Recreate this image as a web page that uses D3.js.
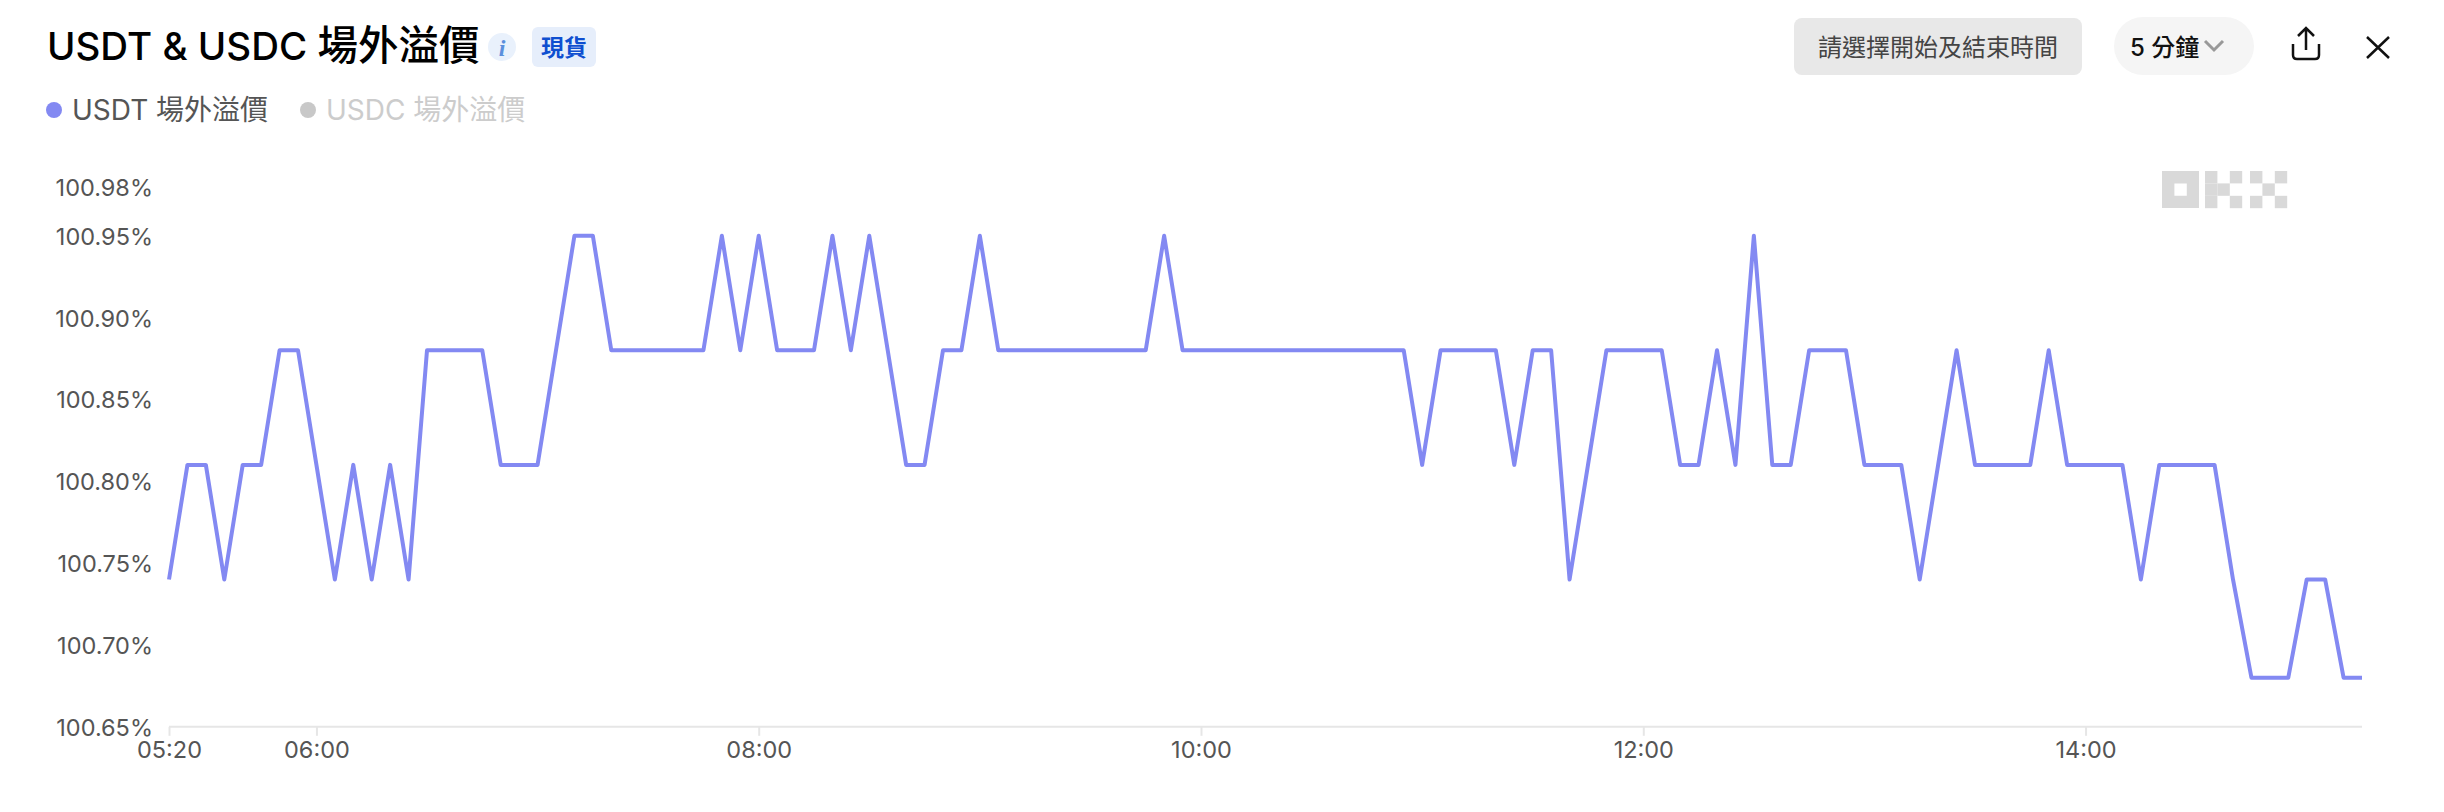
<!DOCTYPE html>
<html><head><meta charset="utf-8">
<script src="https://cdn.jsdelivr.net/npm/d3@7/dist/d3.min.js"></script>
<style>
html,body{margin:0;padding:0;background:#fff;}
svg{display:block;}
text{font-family:Inter,"Noto Sans CJK TC",sans-serif;}
</style></head><body>
<svg id="c" width="2444" height="812"></svg>
<script>
const titleLatin = "USDT & USDC ";
const titleCjk = "場外溢價";
const badge = "現貨";
const seriesNames = ["USDT 場外溢價","USDC 場外溢價"];
const buttonLabel = "請選擇開始及結束時間";
const intervalLabel = "5 分鐘";
const startTime = "05:20";
const stepMinutes = 5;
const usdt = [
100.74,100.81,100.81,100.74,100.81,100.81,100.88,100.88,100.81,100.74,
100.81,100.74,100.81,100.74,100.88,100.88,100.88,100.88,100.81,100.81,
100.81,100.88,100.95,100.95,100.88,100.88,100.88,100.88,100.88,100.88,
100.95,100.88,100.95,100.88,100.88,100.88,100.95,100.88,100.95,100.88,
100.81,100.81,100.88,100.88,100.95,100.88,100.88,100.88,100.88,100.88,
100.88,100.88,100.88,100.88,100.95,100.88,100.88,100.88,100.88,100.88,
100.88,100.88,100.88,100.88,100.88,100.88,100.88,100.88,100.81,100.88,
100.88,100.88,100.88,100.81,100.88,100.88,100.74,100.81,100.88,100.88,
100.88,100.88,100.81,100.81,100.88,100.81,100.95,100.81,100.81,100.88,
100.88,100.88,100.81,100.81,100.81,100.74,100.81,100.88,100.81,100.81,
100.81,100.81,100.88,100.81,100.81,100.81,100.81,100.74,100.81,100.81,
100.81,100.81,100.74,100.68,100.68,100.68,100.74,100.74,100.68,100.68];
const yTicks = [100.65,100.70,100.75,100.80,100.85,100.90,100.95,100.98];
const xTickLabels = ["05:20","06:00","08:00","10:00","12:00","14:00"];

const svg = d3.select("#c");
const toDate = s => { const [h,m]=s.split(":").map(Number); return new Date(Date.UTC(2024,0,1,h,m)); };
const t0 = toDate(startTime);
const times = usdt.map((_,i)=> new Date(+t0 + i*stepMinutes*60000));
const x = d3.scaleUtc().domain([times[0],times[times.length-1]]).range([169,2362]);
const y = d3.scaleLinear().domain([100.65,100.98]).range([726.8,186.6]);

// axes
const xAxis = d3.axisBottom(x).tickValues(xTickLabels.map(toDate)).tickFormat(d3.utcFormat("%H:%M")).tickSize(9).tickPadding(6);
const gx = svg.append("g").attr("transform","translate(0,726.8)").call(xAxis);
gx.select(".domain").attr("stroke","#e6e6e6").attr("stroke-width",2).attr("d","M169,0H2362");
gx.selectAll(".tick line").attr("stroke","#e6e6e6").attr("stroke-width",2);
gx.selectAll(".tick text").attr("fill","#555").attr("font-size",23.5).attr("font-family",'Inter,sans-serif');
const yAxis = d3.axisLeft(y).tickValues(yTicks).tickFormat(d=>d.toFixed(2)+"%").tickSize(0).tickPadding(16);
const gy = svg.append("g").attr("transform","translate(169,1)").call(yAxis);
gy.select(".domain").remove();
gy.selectAll(".tick text").attr("fill","#555").attr("font-size",23.5).attr("font-family",'Inter,sans-serif');

// logo
const lx = 2162, ly = 171, u = 12.4;
const lg = svg.append("g").attr("fill","#d9d9d9");
lg.append("path").attr("fill-rule","evenodd").attr("d",`M${lx} ${ly}h37v37h-37zM${lx+u} ${ly+u}v${u}h${u}v${-u}z`);
[[43,0],[43,u],[43,2*u],[43+u,u],[43+2*u,0],[43+2*u,2*u],[88,0],[88,2*u],[88+u,u],[88+2*u,0],[88+2*u,2*u]].forEach(([a,b])=>{
  lg.append("rect").attr("x",lx+a).attr("y",ly+b).attr("width",u).attr("height",u);
});

// line
const line = d3.line().x((d,i)=>x(times[i])).y(d=>y(d));
svg.append("path").datum(usdt).attr("d",line).attr("fill","none").attr("stroke","#8389f2").attr("stroke-width",4).attr("stroke-linejoin","round");

// header
const tt = svg.append("text").attr("x",47).attr("y",60).attr("fill","#000").attr("font-weight",500);
tt.append("tspan").text(titleLatin).attr("font-size",38.5).attr("xml:space","preserve");
tt.append("tspan").text(titleCjk).attr("font-size",40.5);
svg.append("circle").attr("cx",502).attr("cy",47).attr("r",14).attr("fill","#e9f1fc");
svg.append("text").text("i").attr("x",502).attr("y",56).attr("text-anchor","middle").attr("font-size",24).attr("font-style","italic").attr("font-weight",700).attr("fill","#5b8fdc").style("font-family","'Liberation Serif',serif");
svg.append("rect").attr("x",532).attr("y",27).attr("width",64).attr("height",40).attr("rx",6).attr("fill","#e6eefb");
svg.append("text").text(badge).attr("x",564).attr("y",56).attr("text-anchor","middle").attr("font-size",23).attr("font-weight",700).attr("fill","#0f4fd0");

// legend
const legendX = [54,308], legendTextX=[72,326], legendDot=["#8389f2","#c8c8c8"], legendText=["#555","#ccc"];
seriesNames.forEach((n,i)=>{
  svg.append("circle").attr("cx",legendX[i]).attr("cy",110).attr("r",8).attr("fill",legendDot[i]);
  svg.append("text").text(n).attr("x",legendTextX[i]).attr("y",120).attr("font-size",28).attr("fill",legendText[i]);
});

// controls
svg.append("rect").attr("x",1794).attr("y",18).attr("width",288).attr("height",57).attr("rx",8).attr("fill","#e8e8e8");
svg.append("text").text(buttonLabel).attr("x",1938).attr("y",56).attr("text-anchor","middle").attr("font-size",24).attr("fill","#444");
svg.append("rect").attr("x",2114).attr("y",17).attr("width",140).attr("height",58).attr("rx",29).attr("fill","#f5f5f5");
svg.append("text").text(intervalLabel).attr("x",2130).attr("y",56).attr("font-size",24).attr("font-weight",500).attr("fill","#111");
svg.append("path").attr("d","M2205 41L2214 50L2223 41").attr("fill","none").attr("stroke","#999").attr("stroke-width",3);
svg.append("path").attr("d","M2293 44V55Q2293 59 2297 59H2315Q2319 59 2319 55V44M2306 50V29M2298 36L2306 28L2314 36").attr("fill","none").attr("stroke","#111").attr("stroke-width",2.5);
svg.append("path").attr("d","M2367 37L2389 58M2389 37L2367 58").attr("fill","none").attr("stroke","#111").attr("stroke-width",2.5);
</script></body></html>
